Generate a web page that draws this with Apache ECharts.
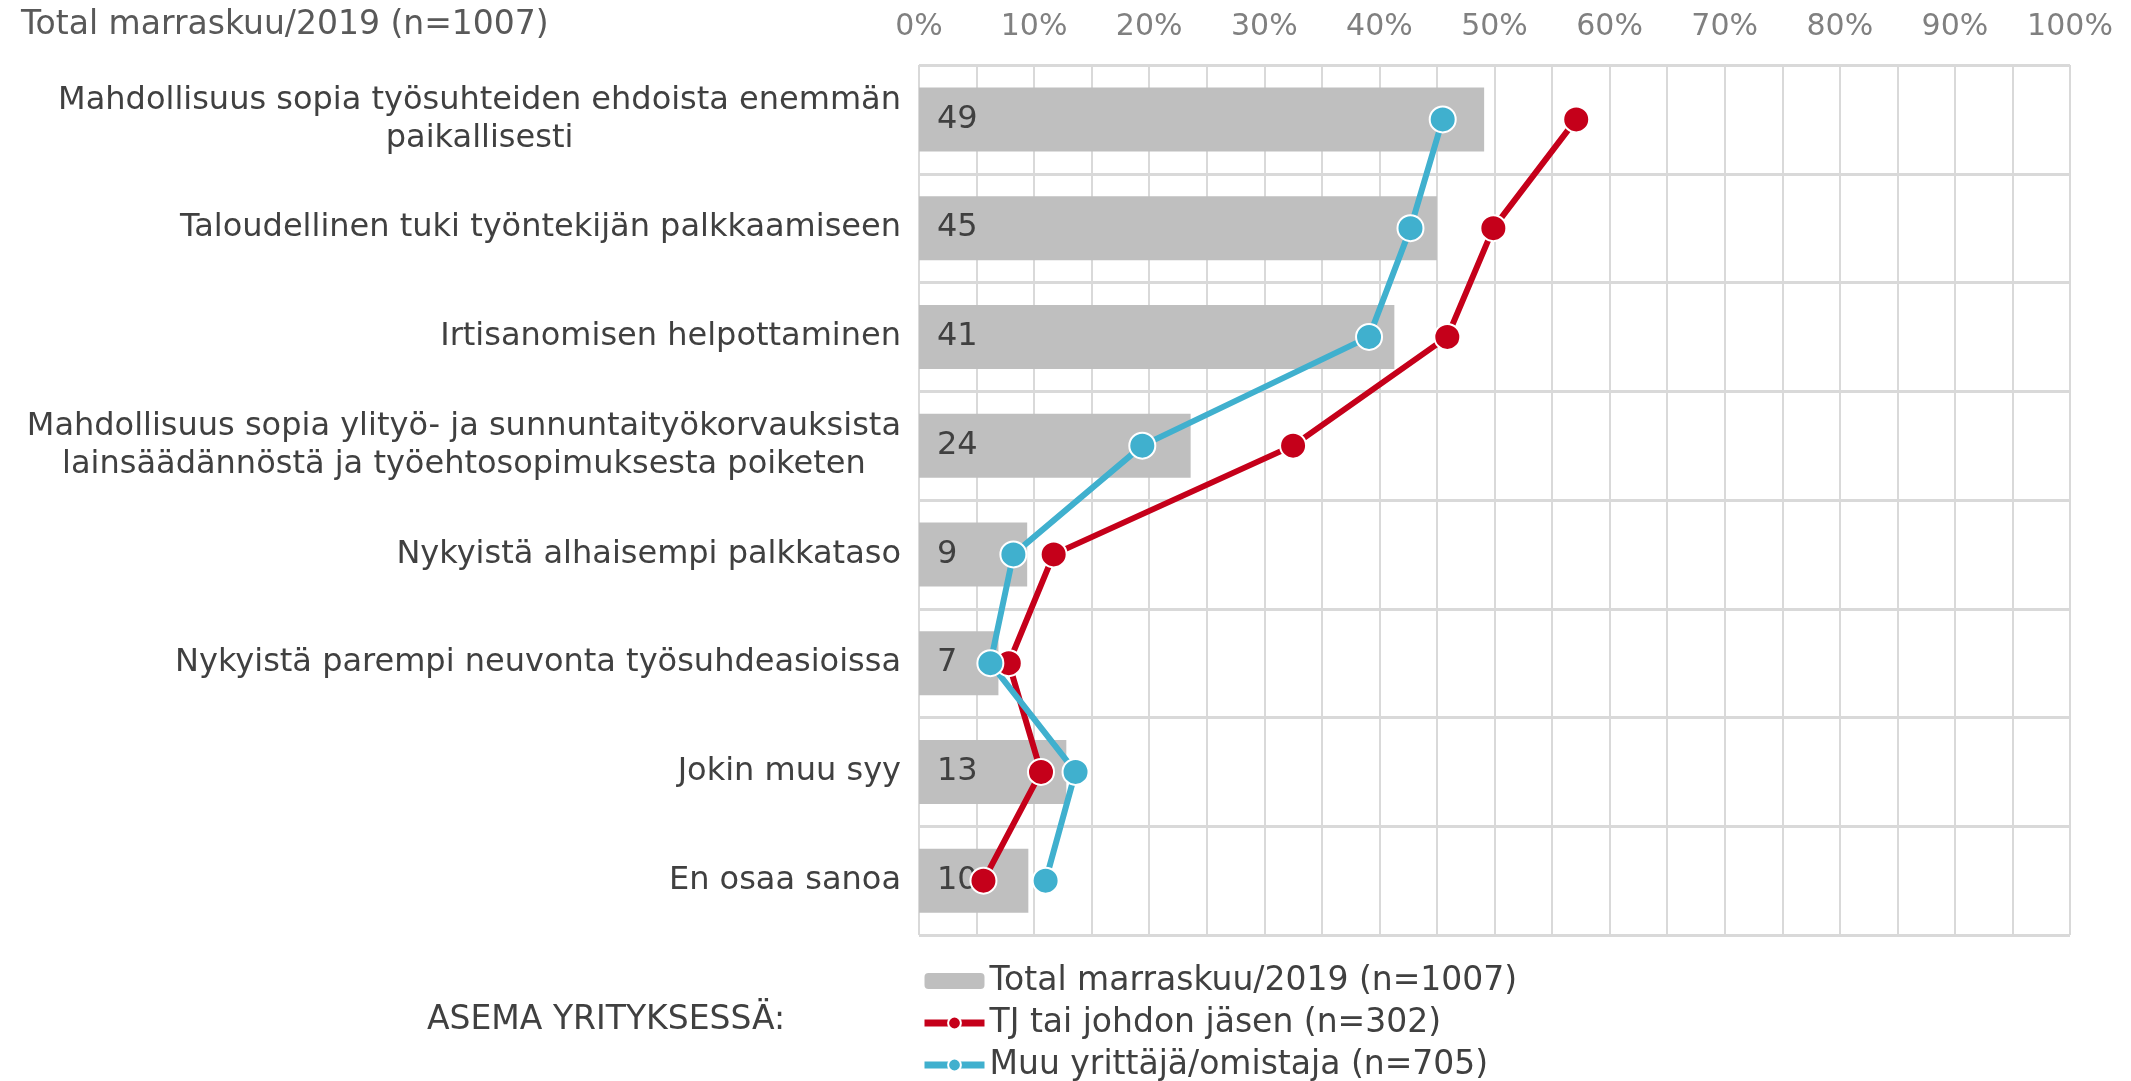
<!DOCTYPE html>
<html lang="fi">
<head>
<meta charset="UTF-8">
<title>Asema yrityksessä</title>
<script src="https://cdn.jsdelivr.net/npm/echarts@6/dist/echarts.min.js"></script>
<style>
  html, body { margin: 0; padding: 0; background: #fff; }
  #main { width: 2131px; height: 1081px; }
</style>
</head>
<body>
<div id="main"></div>
<script>
// vastausvaihtoehdot (ylhäältä alas)
var categories = [
  'Mahdollisuus sopia työsuhteiden ehdoista enemmän\npaikallisesti',
  'Taloudellinen tuki työntekijän palkkaamiseen',
  'Irtisanomisen helpottaminen',
  'Mahdollisuus sopia ylityö- ja sunnuntaityökorvauksista\nlainsäädännöstä ja työehtosopimuksesta poiketen',
  'Nykyistä alhaisempi palkkataso',
  'Nykyistä parempi neuvonta työsuhdeasioissa',
  'Jokin muu syy',
  'En osaa sanoa'
];
var seriesNames = ['Total marraskuu/2019 (n=1007)', 'TJ tai johdon jäsen (n=302)', 'Muu yrittäjä/omistaja (n=705)'];
// palkkien pituudet luettu kuvasta, tekstinä pyöristetty arvo
var totalValues = [49.1, 45.0, 41.3, 23.6, 9.4, 6.9, 12.8, 9.5];
var tjValues = [57.1, 49.9, 45.9, 32.5, 11.7, 7.8, 10.6, 5.6];
var muuValues = [45.5, 42.7, 39.1, 19.4, 8.2, 6.2, 13.6, 11.0];

var FONT = 'DejaVu Sans';
var chart = echarts.init(document.getElementById('main'));

var option = {
  animation: false,
  textStyle: { fontFamily: FONT },
  title: [{
    text: 'Total marraskuu/2019 (n=1007)',
    left: 16, top: 4,
    textStyle: { fontFamily: FONT, fontSize: 33, fontWeight: 'normal', color: '#595959' }
  }, {
    text: 'ASEMA YRITYKSESSÄ:',
    left: 422, top: 999,
    textStyle: { fontFamily: FONT, fontSize: 33, fontWeight: 'normal', color: '#404040' }
  }],
  legend: {
    orient: 'vertical',
    left: 916, top: 958, height: 140,
    itemWidth: 60, itemHeight: 16, itemGap: 6,
    data: seriesNames,
    lineStyle: { width: 7 },
    textStyle: { fontFamily: FONT, fontSize: 33, color: '#404040', lineHeight: 36, padding: [0, 0, 0, 0] }
  },
  grid: { left: 919, right: 61, top: 65, bottom: 146 },
  xAxis: {
    type: 'value', position: 'top',
    min: 0, max: 100, interval: 5,
    axisLine: { show: false }, axisTick: { show: false },
    axisLabel: {
      margin: 23, fontFamily: FONT, fontSize: 30, color: '#808080',
      formatter: function (v) { return v % 10 === 0 ? v + '%' : ''; }
    },
    splitLine: { lineStyle: { color: '#D9D9D9', width: 2 } }
  },
  yAxis: {
    type: 'category', inverse: true, data: categories,
    axisLine: { show: false }, axisTick: { show: false },
    axisLabel: {
      margin: 18, fontFamily: FONT, fontSize: 32, color: '#404040', lineHeight: 38,
      formatter: function (v) {
        return v.split('\n').map(function (l) { return '{c|' + l + '}'; }).join('\n');
      },
      rich: { c: { align: 'center', fontFamily: FONT, fontSize: 32, color: '#404040', lineHeight: 38 } }
    },
    splitLine: { show: true, lineStyle: { color: '#D9D9D9', width: 3 } }
  },
  series: [{
    name: seriesNames[0], type: 'bar', data: totalValues,
    barWidth: 64,
    itemStyle: { color: '#BFBFBF' },
    label: {
      show: true, position: 'insideLeft', distance: 18, fontFamily: FONT, fontSize: 32, color: '#404040',
      formatter: function (p) { return Math.round(p.value); }
    }
  }, {
    name: seriesNames[1], type: 'line', data: tjValues,
    symbol: 'circle', symbolSize: 26,
    lineStyle: { color: '#C5001A', width: 6 },
    itemStyle: { color: '#C5001A', borderColor: '#fff', borderWidth: 2 }
  }, {
    name: seriesNames[2], type: 'line', data: muuValues,
    symbol: 'circle', symbolSize: 26,
    lineStyle: { color: '#40B0CE', width: 6 },
    itemStyle: { color: '#40B0CE', borderColor: '#fff', borderWidth: 2 }
  }]
};
chart.setOption(option);
</script>
</body>
</html>
